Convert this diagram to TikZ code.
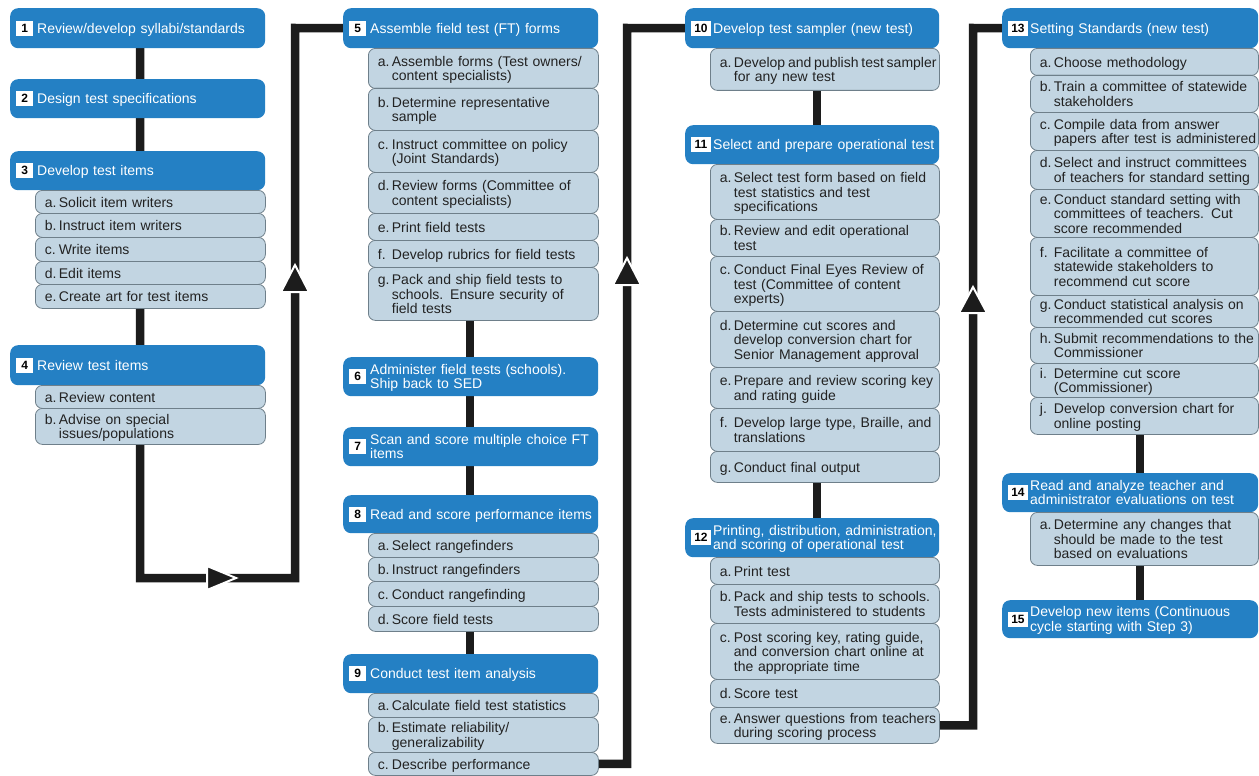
\documentclass[tikz,border=0pt]{standalone}
\usepackage{fontspec}
\setmainfont{Liberation Sans}
\usetikzlibrary{backgrounds,calc}
\definecolor{hblue}{HTML}{2480C4}
\definecolor{sfill}{HTML}{C2D5E2}
\definecolor{sline}{HTML}{6E7F8A}
\definecolor{stext}{HTML}{222222}
\definecolor{lineblk}{HTML}{1C1C1C}

\newcommand\nb[1]{\makebox[21pt][l]{\setlength\fboxsep{0pt}\colorbox{white}{\parbox[c][15pt][c]{17pt}{\centering\color{black}\fontsize{12}{12}\selectfont\bfseries #1}}}}
\newcommand\nbb[1]{\makebox[22pt][l]{\setlength\fboxsep{0pt}\colorbox{white}{\parbox[c][15pt][c]{19.5pt}{\centering\color{black}\fontsize{12}{12}\selectfont\bfseries #1}}}}
\newcommand\HT[2]{#1\raisebox{-2pt}[\height][\depth]{\begin{tabular}[c]{@{}l@{}}#2\end{tabular}}}
\newcommand\ST[2]{\raisebox{-2.3pt}[\height][\depth]{\begin{tabular}{@{}l@{}l@{}}\makebox[14pt][l]{#1}&#2\end{tabular}}}
\newcommand\HB[6]{\pgfmathsetmacro\hgt{#5-#4}\pgfmathsetmacro\tw{#3-12}\node[hdr,text width=\tw pt,minimum height=\hgt pt] (#1) at (#2,#4) {#6};}
\newcommand\SB[6]{\pgfmathsetmacro\hgt{#5-#4}\pgfmathsetmacro\tw{#3-19}\node[sbox,text width=\tw pt,minimum height=\hgt pt] (#1) at (#2,#4) {#6};}

\begin{document}
\begin{tikzpicture}[x=1pt,y=-1pt,
  hdr/.style={anchor=north west, fill=hblue, rounded corners=8pt, inner xsep=6pt, inner ysep=0pt, align=left, text=white, font=\fontsize{14}{14.3}\selectfont},
  sbox/.style={anchor=north west, fill=sfill, draw=sline, line width=0.8pt, rounded corners=7pt, inner xsep=9.5pt, inner ysep=0pt, align=left, text=stext, font=\fontsize{14}{14.3}\selectfont},
  conn/.style={line width=8.5pt, draw=lineblk},
  atri/.style={fill=lineblk, draw=white, line width=2pt, line join=miter}]
\useasboundingbox (0,0) rectangle (1259,776);

% Column 1
\HB{n1}{10}{255}{8}{48}{\HT{\nb{1}}{Review/develop syllabi/standards}}
\HB{n2}{10}{255}{79}{118}{\HT{\nb{2}}{Design test specifications}}
\HB{n3}{10}{255}{151}{190}{\HT{\nb{3}}{Develop test items}}
\SB{n3a}{35}{230}{190}{213}{\ST{a.}{Solicit item writers}}
\SB{n3b}{35}{230}{213}{237}{\ST{b.}{Instruct item writers}}
\SB{n3c}{35}{230}{237}{261}{\ST{c.}{Write items}}
\SB{n3d}{35}{230}{261}{284}{\ST{d.}{Edit items}}
\SB{n3e}{35}{230}{284}{308}{\ST{e.}{Create art for test items}}
\HB{n4}{10}{255}{345}{385}{\HT{\nb{4}}{Review test items}}
\SB{n4a}{35}{230}{385}{408}{\ST{a.}{Review content}}
\SB{n4b}{35}{230}{408}{444}{\ST{b.}{Advise on special\\&issues/populations}}

% Column 2
\HB{n5}{343}{255}{8}{48}{\HT{\nb{5}}{Assemble field test (FT) forms}}
\SB{n5a}{368}{230}{48}{88}{\ST{a.}{Assemble forms (Test owners/\\&content specialists)}}
\SB{n5b}{368}{230}{88}{130}{\ST{b.}{Determine representative\\&sample}}
\SB{n5c}{368}{230}{130}{172}{\ST{c.}{Instruct committee on policy\\&(Joint Standards)}}
\SB{n5d}{368}{230}{172}{213}{\ST{d.}{Review forms (Committee of\\&content specialists)}}
\SB{n5e}{368}{230}{213}{240}{\ST{e.}{Print field tests}}
\SB{n5f}{368}{230}{240}{267}{\ST{f.}{Develop rubrics for field tests}}
\SB{n5g}{368}{230}{267}{320}{\ST{g.}{Pack and ship field tests to\\&schools. Ensure security of\\&field tests}}
\HB{n6}{343}{255}{357}{396}{\HT{\nb{6}}{Administer field tests (schools).\\Ship back to SED}}
\HB{n7}{343}{255}{427}{466}{\HT{\nb{7}}{Scan and score multiple choice FT\\items}}
\HB{n8}{343}{255}{495}{533}{\HT{\nb{8}}{Read and score performance items}}
\SB{n8a}{368}{230}{533}{557}{\ST{a.}{Select rangefinders}}
\SB{n8b}{368}{230}{557}{581}{\ST{b.}{Instruct rangefinders}}
\SB{n8c}{368}{230}{581}{606}{\ST{c.}{Conduct rangefinding}}
\SB{n8d}{368}{230}{606}{631}{\ST{d.}{Score field tests}}
\HB{n9}{343}{255}{654}{693}{\HT{\nb{9}}{Conduct test item analysis}}
\SB{n9a}{368}{230}{693}{717}{\ST{a.}{Calculate field test statistics}}
\SB{n9b}{368}{230}{717}{752}{\ST{b.}{Estimate reliability/\\&generalizability}}
\SB{n9c}{368}{230}{752}{775}{\ST{c.}{Describe performance}}

% Column 3
\HB{n10}{685}{254}{8}{48}{\HT{\nbb{10}}{Develop test sampler (new test)}}
\SB{n10a}{710}{229}{48}{90}{\ST{a.}{{\spaceskip=0.2em Develop and publish test sampler}\\&for any new test}}
\HB{n11}{685}{254}{125}{164}{\HT{\nbb{11}}{Select and prepare operational test}}
\SB{n11a}{710}{229}{164}{219}{\ST{a.}{Select test form based on field\\&test statistics and test\\&specifications}}
\SB{n11b}{710}{229}{219}{256}{\ST{b.}{Review and edit operational\\&test}}
\SB{n11c}{710}{229}{256}{311}{\ST{c.}{Conduct Final Eyes Review of\\&test (Committee of content\\&experts)}}
\SB{n11d}{710}{229}{311}{367}{\ST{d.}{Determine cut scores and\\&develop conversion chart for\\&Senior Management approval}}
\SB{n11e}{710}{229}{367}{408}{\ST{e.}{Prepare and review scoring key\\&and rating guide}}
\SB{n11f}{710}{229}{408}{451}{\ST{f.}{Develop large type, Braille, and\\&translations}}
\SB{n11g}{710}{229}{451}{482}{\ST{g.}{Conduct final output}}
\HB{n12}{685}{254}{518}{557}{\HT{\nbb{12}}{Printing, distribution, administration,\\and scoring of operational test}}
\SB{n12a}{710}{229}{557}{584}{\ST{a.}{Print test}}
\SB{n12b}{710}{229}{584}{623}{\ST{b.}{Pack and ship tests to schools.\\&Tests administered to students}}
\SB{n12c}{710}{229}{623}{679}{\ST{c.}{Post scoring key, rating guide,\\&and conversion chart online at\\&the appropriate time}}
\SB{n12d}{710}{229}{679}{707}{\ST{d.}{Score test}}
\SB{n12e}{710}{229}{707}{743}{\ST{e.}{Answer questions from teachers\\&during scoring process}}

% Column 4
\HB{n13}{1002}{256}{8}{48}{\HT{\nbb{13}}{Setting Standards (new test)}}
\SB{n13a}{1030}{228}{48}{75}{\ST{a.}{Choose methodology}}
\SB{n13b}{1030}{228}{75}{112}{\ST{b.}{Train a committee of statewide\\&stakeholders}}
\SB{n13c}{1030}{228}{112}{150}{\ST{c.}{Compile data from answer\\&papers after test is administered}}
\SB{n13d}{1030}{228}{150}{189}{\ST{d.}{Select and instruct committees\\&of teachers for standard setting}}
\SB{n13e}{1030}{228}{189}{237}{\ST{e.}{Conduct standard setting with\\&committees of teachers. Cut\\&score recommended}}
\SB{n13f}{1030}{228}{237}{295}{\ST{f.}{Facilitate a committee of\\&statewide stakeholders to\\&recommend cut score}}
\SB{n13g}{1030}{228}{295}{327}{\ST{g.}{Conduct statistical analysis on\\&recommended cut scores}}
\SB{n13h}{1030}{228}{327}{363}{\ST{h.}{Submit recommendations to the\\&Commissioner}}
\SB{n13i}{1030}{228}{363}{397}{\ST{i.}{Determine cut score\\&(Commissioner)}}
\SB{n13j}{1030}{228}{397}{434}{\ST{j.}{Develop conversion chart for\\&online posting}}
\HB{n14}{1002}{256}{473}{512}{\HT{\nbb{14}}{Read and analyze teacher and\\administrator evaluations on test}}
\SB{n14a}{1030}{228}{512}{565}{\ST{a.}{Determine any changes that\\&should be made to the test\\&based on evaluations}}
\HB{n15}{1002}{256}{600}{638}{\HT{\nbb{15}}{Develop new items (Continuous\\cycle starting with Step 3)}}

% connector coordinates
\coordinate (x1) at (140,0);
\coordinate (x2) at (470,0);
\coordinate (x3) at (817,0);
\coordinate (x4) at (1140,0);
\coordinate (c1bl) at (140,578);
\coordinate (c1br) at (295,578);
\coordinate (c1tr) at (295,28);
\coordinate (c2tr) at (627,28);
\coordinate (c3tr) at (973,28);

\begin{scope}[on background layer]
\fill[white] (0,0) rectangle (1259,776);
\draw[conn] (n1.center -| x1) -- (c1bl) -- (c1br) -- (c1tr) -- (n5.center);
\draw[conn] (n5.center -| x2) -- (n9.center -| x2);
\draw[conn] (n9c.center) -| (c2tr) -- (n10.center);
\draw[conn] (n10.center -| x3) -- (n12.center -| x3);
\draw[conn] (n12e.center) -| (c3tr) -- (n13.center);
\draw[conn] (n13.center -| x4) -- (n15.center -| x4);
\end{scope}

% arrowheads on the connectors
\filldraw[atri] (207,566) -- (236,578) -- (207,590) -- cycle;
\filldraw[atri] (281,292) -- (295,265) -- (309,292) -- cycle;
\filldraw[atri] (613,285) -- (627,258) -- (641,285) -- cycle;
\filldraw[atri] (959,313) -- (973,287) -- (987,313) -- cycle;
\end{tikzpicture}
\end{document}
